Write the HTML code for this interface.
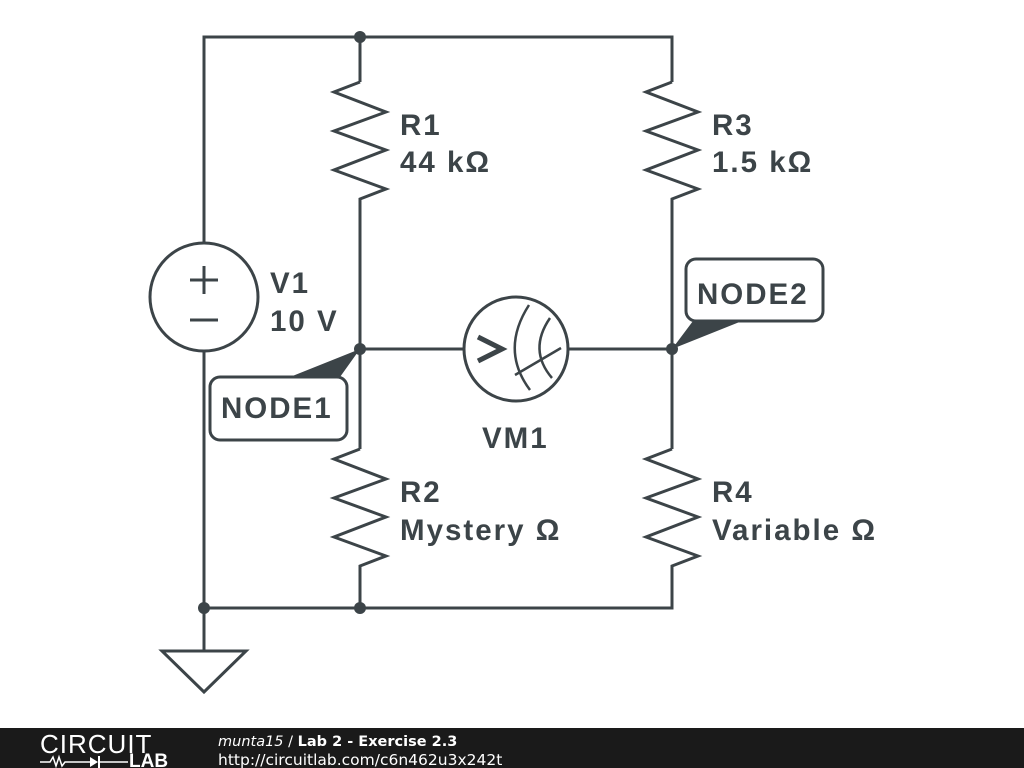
<!DOCTYPE html>
<html><head><style>
body{margin:0;width:1024px;height:768px;background:#fff;overflow:hidden}
svg{display:block}
.t{font-family:"Liberation Sans","DejaVu Sans",sans-serif;font-weight:bold;font-size:29.5px;letter-spacing:2px;fill:#3c4448}
</style></head><body>
<svg width="1024" height="768" viewBox="0 0 1024 768">
<g stroke="#3c4448" stroke-width="3" fill="none" stroke-linejoin="miter">
<polyline points="204,243 204,37 672,37 672,82"/>
<line x1="204" y1="351" x2="204" y2="651"/>
<line x1="360" y1="37" x2="360" y2="82"/>
<polyline points="360,82 334,92 386,112 334,131 386,150 334,170 386,189 360,199 360,449"/>
<polyline points="672,82 646,92 698,112 646,131 698,150 646,170 698,189 672,199 672,449"/>
<polyline points="360,449 334,459 386,479 334,498 386,517 334,537 386,556 360,566 360,608"/>
<polyline points="672,449 646,459 698,479 646,498 698,517 646,537 698,556 672,566 672,608 204,608"/>
<circle cx="204" cy="297" r="54"/>
<line x1="190" y1="280" x2="218" y2="280"/><line x1="204" y1="266" x2="204" y2="294"/>
<line x1="190" y1="320" x2="218" y2="320"/>
<polygon points="162,651 246,651 204,692"/>
<line x1="360" y1="349" x2="464" y2="349"/><line x1="568" y1="349" x2="672" y2="349"/>
<circle cx="516" cy="349" r="52"/>
<path d="M529,305 Q500,350 530,390" stroke-width="2.5"/>
<path d="M550,318 Q528,350 552,378" stroke-width="2.5"/>
<line x1="515" y1="375" x2="561" y2="348" stroke-width="2.5"/>
<polyline points="478,337 502,349 478,361" stroke-width="5"/>
<rect x="210" y="377" width="137" height="63" rx="10"/>
<rect x="686" y="259" width="137" height="62" rx="10"/>
</g>
<g fill="#3c4448">
<circle cx="360" cy="37" r="6"/><circle cx="360" cy="349" r="6"/><circle cx="672" cy="349" r="6"/>
<circle cx="204" cy="608" r="6"/><circle cx="360" cy="608" r="6"/>
<polygon points="290,377 340,377 360,349"/>
<polygon points="693,321 742,321 672,349"/>
</g>
<text class="t" x="400" y="135">R1</text><text class="t" x="400" y="172">44 kΩ</text>
<text class="t" x="712" y="135">R3</text><text class="t" x="712" y="172">1.5 kΩ</text>
<text class="t" x="270" y="293">V1</text><text class="t" x="270" y="331">10 V</text>
<text class="t" x="400" y="502">R2</text><text class="t" x="400" y="540">Mystery Ω</text>
<text class="t" x="712" y="502">R4</text><text class="t" x="712" y="540">Variable Ω</text>
<text class="t" x="482" y="448">VM1</text>
<text class="t" x="221" y="418">NODE1</text>
<text class="t" x="697" y="304">NODE2</text>
<rect x="0" y="728" width="1024" height="40" fill="#1a1a1a"/>
<text x="40" y="753" font-family="Liberation Sans,sans-serif" font-size="26" letter-spacing="1" fill="#fff">CIRCUIT</text>
<text x="129" y="767" font-family="Liberation Sans,sans-serif" font-weight="bold" font-size="19" fill="#fff">LAB</text>
<polyline points="40,762 50,762 53,757 56,766 59,757 62,766 65,762 90,762" stroke="#fff" stroke-width="1.5" fill="none"/>
<polygon points="90,757 90,767 98,762" fill="#fff"/><line x1="99" y1="756" x2="99" y2="768" stroke="#fff" stroke-width="2"/>
<line x1="99" y1="762" x2="128" y2="762" stroke="#fff" stroke-width="1.5"/>
<text x="218" y="746" font-family="DejaVu Sans,sans-serif" font-size="14.5" fill="#fff"><tspan font-style="italic">munta15</tspan> / <tspan font-weight="bold">Lab 2 - Exercise 2.3</tspan></text>
<text x="218" y="765" font-family="DejaVu Sans,sans-serif" font-size="15.5" fill="#fff">http://circuitlab.com/c6n462u3x242t</text>
</svg>
</body></html>
